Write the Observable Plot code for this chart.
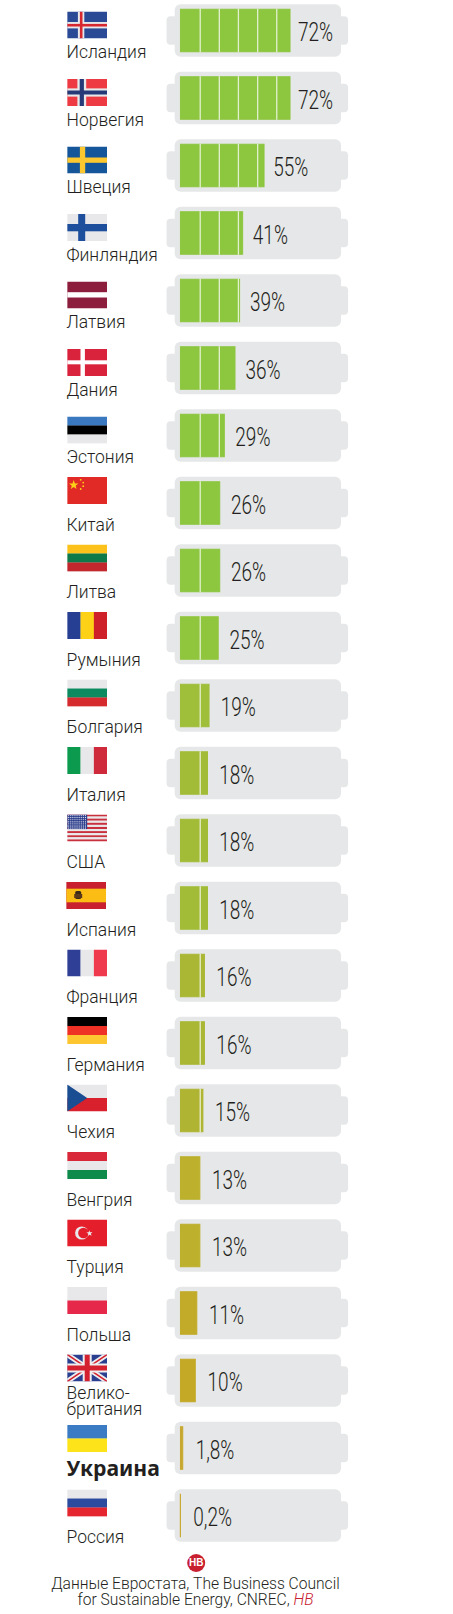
<!DOCTYPE html>
<html lang="ru">
<head>
<meta charset="utf-8">
<script src="https://cdn.jsdelivr.net/npm/d3@7"></script>
<script src="https://cdn.jsdelivr.net/npm/@observablehq/plot@0.6"></script>
<style>
html,body{margin:0;padding:0;background:#fff}
#chart svg{display:block}
#note{width:391px;text-align:center;font:300 15.6px/16px "Roboto",sans-serif;color:#231f20;margin:1px 0 0}
#note i{color:#c8202f}
</style>
</head>
<body>
<div id="chart"></div>
<p id="note">Данные Евростата, The Business Council<br>for Sustainable Energy, CNREC, <i>НВ</i></p>
<script>
const countries = ["Исландия","Норвегия","Швеция","Финляндия","Латвия","Дания","Эстония","Китай","Литва","Румыния","Болгария","Италия","США","Испания","Франция","Германия","Чехия","Венгрия","Турция","Польша","Велико-\nбритания","Украина","Россия"];
const shares = [72,72,55,41,39,36,29,26,26,25,19,18,18,18,16,16,15,13,13,11,10,1.8,0.2];
const upperFlags = ["Исландия","Норвегия","Швеция","Финляндия","Латвия","Дания","Эстония"];
const highlighted = "Украина";
const dividers = [12.9,25.4,37.9,50.5,63];
const batteryBody = [-3.5,105.4];
const leftCap = [-8.8,-3.5];
const rightCap = [105.4,110];
const colorDomain = [0,10,13,16,19,26,72];
const colorRange = ["#c8a62e","#c4a926","#bcb02c","#a9b735","#9fbe3a","#8dc63f","#8dc63f"];

const svgFlag = body => "data:image/svg+xml;utf8," + encodeURIComponent(
  `<svg xmlns="http://www.w3.org/2000/svg" viewBox="0 0 40 27" width="40" height="27" preserveAspectRatio="none">${body}</svg>`);
const hs = (...c) => c.map((f,i)=>`<rect y="${27*i/c.length}" width="40" height="${27/c.length+.2}" fill="${f}"/>`).join("");
const vs = (...c) => c.map((f,i)=>`<rect x="${40*i/c.length}" width="${40/c.length+.2}" height="27" fill="${f}"/>`).join("");
const bars = (x,w,y,h,f) => `<rect x="${x}" width="${w}" height="27" fill="${f}"/><rect y="${y}" width="40" height="${h}" fill="${f}"/>`;
const W = "#e8e8ea";
const usStripes = Array.from({length:13},(_, i)=>`<rect y="${i*27/13}" width="40" height="${27/13}" fill="${i%2?W:"#c9303e"}"/>`).join("");
let usStars = "";
for (let r=0;r<8;r++) for (let c=0;c<10;c++) usStars += `<circle cx="${1.2+c*1.9}" cy="${1+r*1.9}" r=".55" fill="#e8e8f0"/>`;
const flagSrc = {
  "Исландия": `<rect width="40" height="27" fill="#2b4a96"/>` + bars(10.7,6.4,10.5,6.4,W) + bars(12.7,2.6,12.4,2.6,"#d7282f"),
  "Норвегия": `<rect width="40" height="27" fill="#ee3a43"/>` + bars(10.2,8.8,9.4,8.2,W) + bars(12.5,4.2,11.5,4,"#263a78"),
  "Швеция": `<rect width="40" height="27" fill="#15569b"/>` + bars(12.7,5.3,11,5.3,"#fdc82f"),
  "Финляндия": `<rect width="40" height="27" fill="${W}"/>` + bars(11,7,10,7.3,"#1d4f9c"),
  "Латвия": `<rect width="40" height="27" fill="#8c1d3c"/><rect y="10.7" width="40" height="5.3" fill="#fff"/>`,
  "Дания": `<rect width="40" height="27" fill="#d9233c"/>` + bars(13.3,4.4,11.3,4,"#fff"),
  "Эстония": hs("#3a78c0","#000",W),
  "Китай": `<rect width="40" height="27" fill="#e12a26"/><polygon points="6.5,3 7.7,6.5 11.2,6.5 8.4,8.7 9.4,12 6.5,10 3.6,12 4.6,8.7 1.8,6.5 5.3,6.5" fill="#fcd116"/><circle cx="13.5" cy="2.8" r=".9" fill="#fcd116"/><circle cx="16" cy="5.6" r=".9" fill="#fcd116"/><circle cx="16" cy="9.2" r=".9" fill="#fcd116"/><circle cx="13.5" cy="12" r=".9" fill="#fcd116"/>`,
  "Литва": hs("#fcc21b","#0e7a4a","#c1272d"),
  "Румыния": vs("#263f93","#fdd116","#ce2029"),
  "Болгария": hs(W,"#0d8a5f","#d52b2e"),
  "Италия": vs("#0c9a4f",W,"#cf2a3c"),
  "США": usStripes + `<rect width="20" height="14.6" fill="#2d3f8d"/>` + usStars,
  "Испания": `<rect width="40" height="27" fill="#c8202f"/><rect y="6.7" width="40" height="13.6" fill="#fbbc13"/><rect x="9" y="9" width="6" height="8" rx="1.5" fill="#3a2a1a"/><rect x="8" y="12" width="8" height="4" fill="#5a3a1a"/>`,
  "Франция": vs("#2f3f95",W,"#ee3a4c"),
  "Германия": hs("#000","#ee3124","#fdc530"),
  "Чехия": `<rect width="40" height="13.5" fill="${W}"/><rect y="13.5" width="40" height="13.5" fill="#d8212c"/><polygon points="0,0 20,13.5 0,27" fill="#1a4d91"/>`,
  "Венгрия": hs("#d8283a",W,"#0e8a4a"),
  "Турция": `<rect width="40" height="27" fill="#e41e2a"/><circle cx="14.5" cy="13.5" r="6.6" fill="${W}"/><circle cx="16.2" cy="13.5" r="5.3" fill="#e41e2a"/><polygon points="22,10.8 22.9,12.8 25.2,12.6 23.6,14.2 24.5,16.3 22.5,15.2 20.7,16.6 21.1,14.3 19.2,13 21.5,12.7" fill="${W}"/>`,
  "Польша": hs(W,"#e6294b"),
  "Велико-\nбритания": `<rect width="40" height="27" fill="#2a3f8f"/><path d="M0,0L40,27M40,0L0,27" stroke="#eee" stroke-width="5"/><path d="M0,0L40,27M40,0L0,27" stroke="#d5202f" stroke-width="1.6"/><rect x="15.5" width="9" height="27" fill="#eee"/><rect y="9" width="40" height="9" fill="#eee"/><rect x="17.5" width="5" height="27" fill="#d5202f"/><rect y="11" width="40" height="5" fill="#d5202f"/>`,
  "Украина": hs("#3a7bc4","#fde31a"),
  "Россия": hs(W,"#2c4a9e","#e5262e")
};
const table = countries.map((country,i)=>({country,share:shares[i],src:svgFlag(flagSrc[country])}));
const lbl = s => String(s).replace(".",",")+"%";
const flagMark = (rows,dy,dx=-93.3) => Plot.image(rows,{x:()=>0,y:"country",src:"src",width:40,height:27,dx,dy,preserveAspectRatio:"none"});
const upper = table.filter(d=>upperFlags.includes(d.country));
const ukr = table.filter(d=>d.country===highlighted);
const lower = table.filter(d=>!upperFlags.includes(d.country)&&d.country!==highlighted);
const dividerRows = table.flatMap(d=>dividers.filter(v=>v<d.share-1).map(v=>({country:d.country,v})));
const body = (x1,x2,inset,rx)=>Plot.barX(table,{x1:()=>x1,x2:()=>x2,y:"country",fill:"#e6e7e8",insetTop:inset,insetBottom:inset,rx});

const plot = Plot.plot({
  width:453,height:1575,margin:0,
  x:{domain:[-180/1.528,273/1.528],range:[0,453],axis:null},
  y:{type:"band",domain:countries,range:[-3.25,1549.25],padding:0,round:false,axis:null},
  color:{type:"linear",domain:colorDomain,range:colorRange,interpolate:"rgb"},
  marks:[
    body(leftCap[0],leftCap[1]+2,19.5,4),
    body(rightCap[0]-2,rightCap[1],19.5,4),
    body(batteryBody[0],batteryBody[1],7.5,6),
    Plot.barX(table,{x1:()=>0.3,x2:"share",y:"country",fill:"share",stroke:"share",strokeWidth:1,insetTop:12.5,insetBottom:12.5}),
    Plot.tickX(dividerRows,{x:"v",y:"country",stroke:"#fff",strokeOpacity:.75,strokeWidth:1.3,insetTop:12,insetBottom:12}),
    // the label sits a little closer to long bars than to short ones
    Plot.text(table,{x:d=>d.share*0.955,y:"country",text:d=>lbl(d.share),dx:12.5,dy:2,textAnchor:"start",fontFamily:"Roboto",fontWeight:300,fontSize:26,fill:"#231f20",className:"pct"}),
    flagMark(upper,-6),
    flagMark(lower.filter(d=>d.country!=="Испания"),-13),
    flagMark(lower.filter(d=>d.country==="Испания"),-13,-94.3),
    flagMark(ukr,-10),
    Plot.text(table.filter(d=>d.country!==highlighted&&!d.country.includes("\n")),{x:()=>0,y:"country",text:"country",dx:-114,dy:21.5,textAnchor:"start",fontFamily:"Roboto",fontWeight:300,fontSize:17.5,fill:"#231f20"}),
    Plot.text(table.filter(d=>d.country.includes("\n")),{x:()=>0,y:"country",text:"country",dx:-114,dy:21,textAnchor:"start",fontFamily:"Roboto",fontWeight:300,fontSize:17.5,lineHeight:.87,fill:"#231f20"}),
    Plot.text(ukr,{x:()=>0,y:"country",text:"country",dx:-114,dy:20.5,textAnchor:"start",fontFamily:"Noto Sans",fontWeight:700,fontSize:21.2,fill:"#231f20"}),
    Plot.dot(table.slice(-1),{x:()=>0,y:"country",r:9,fill:"#c8202f",dx:15.7,dy:47}),
    Plot.text(table.slice(-1),{x:()=>0,y:"country",text:()=>"НВ",dx:15.7,dy:47,fontFamily:"Liberation Sans",fontWeight:700,fontSize:10,fill:"#fff"})
  ]
});
document.getElementById("chart").append(plot);
// The reference's percentages are set in a condensed face: compress the real text to that width.
plot.querySelectorAll(".pct text").forEach(t=>{
  t.setAttribute("textLength",(t.getComputedTextLength()*0.73).toFixed(1));
  t.setAttribute("lengthAdjust","spacingAndGlyphs");
});
</script>
</body>
</html>
